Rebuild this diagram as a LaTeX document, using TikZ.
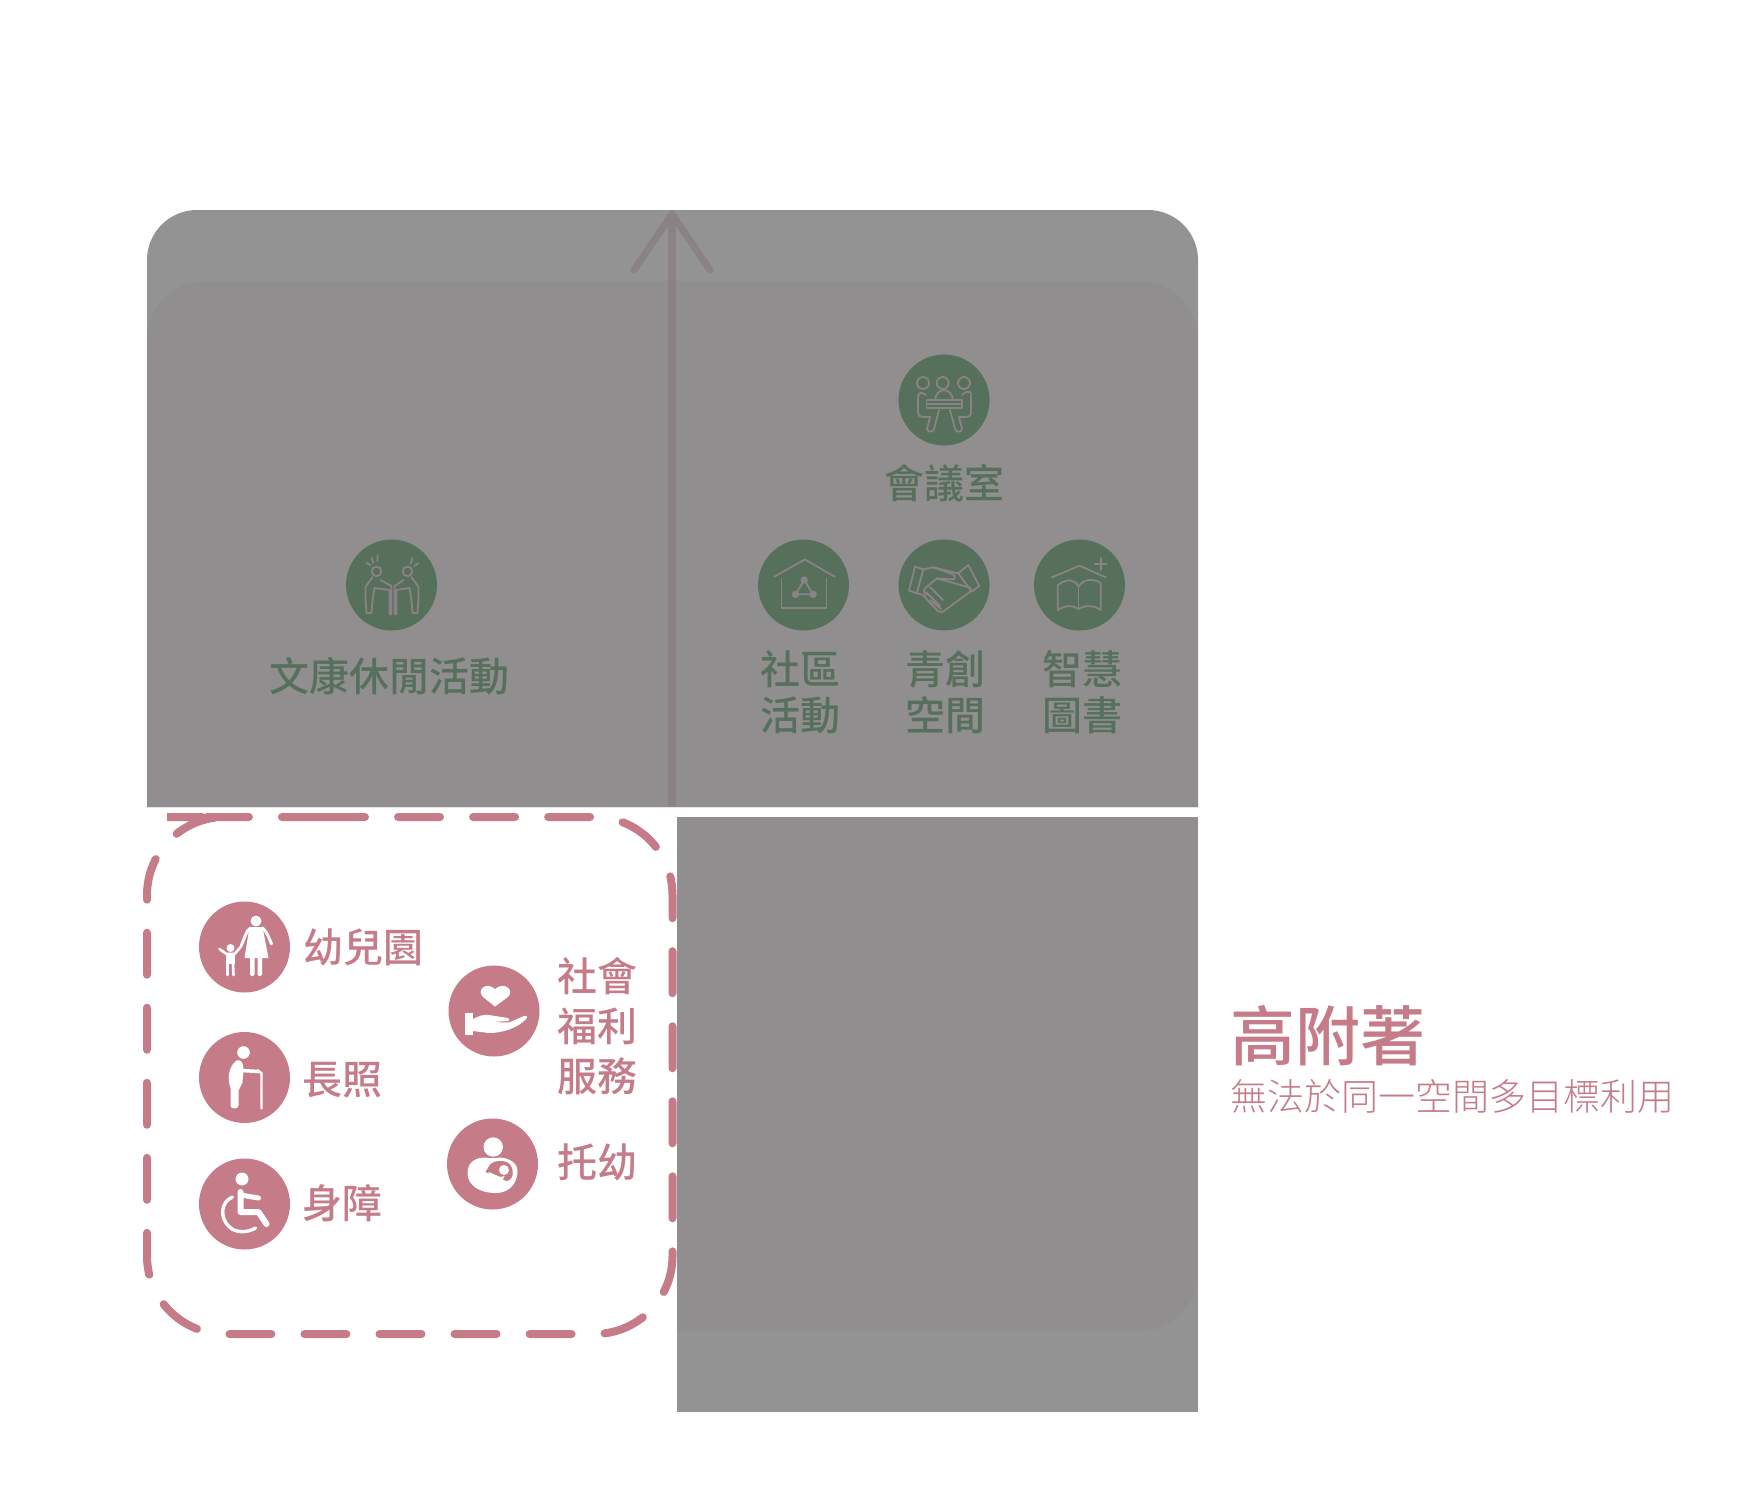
\documentclass[tikz,border=0pt]{standalone}
\usepackage{fontspec}
\setmainfont{Noto Sans CJK TC}[BoldFont={Noto Sans CJK TC}]
\newfontfamily\cjkmid{Noto Sans CJK TC Medium}
\newfontfamily\cjklight{Noto Sans CJK TC Light}
\definecolor{panelgray}{HTML}{949394}
\definecolor{innergray}{HTML}{918E90}
\definecolor{arrowgray}{HTML}{8B8285}
\definecolor{leafgreen}{HTML}{56705B}
\definecolor{rosepink}{HTML}{C57C88}
\tikzset{
  greendisc/.style={fill=leafgreen},
  pinkdisc/.style={fill=rosepink},
  greenlabel/.style={text=leafgreen, inner sep=0pt, align=center, font=\cjkmid\fontsize{40}{46}\selectfont},
  pinklabel/.style={text=rosepink, inner sep=0pt, align=center, font=\cjkmid\fontsize{40}{50}\selectfont},
  outline/.style={draw=arrowgray, line width=1.8pt, line join=round, line cap=round},
  solidwhite/.style={draw=white, line cap=round, line join=round}
}
\begin{document}
\begin{tikzpicture}[x=1pt,y=-1pt]
\useasboundingbox (0,0) rectangle (1747,1510);
% gray panels
\fill [panelgray] (147,807) [rounded corners=50pt] -- (147,210) -- (1198,210) [sharp corners] -- (1198,807) -- cycle;
\fill [panelgray] (677,817) rectangle (1198,1412);
\begin{scope}
\clip (147,210) rectangle (1198,807) (677,817) rectangle (1198,1412);
\fill [innergray, rounded corners=58pt] (147,281) rectangle (1198,1331);
\end{scope}
% axis
\coordinate (axisbase) at (672,807);
\coordinate (axistip) at (672,214);
\coordinate (headleft) at (634,270);
\coordinate (headright) at (710,270);
\draw [arrowgray, line width=8pt] (axisbase) -- (axistip);
\draw [arrowgray, line width=7pt, line cap=round, line join=round] (headleft) -- (axistip) -- (headright);
% dashed frame
\draw [rosepink, line width=8pt, line cap=round, dash pattern=on 42pt off 33.04pt] (245,817) [rounded corners=78pt] -- (672.5,817) -- (672.5,1334) -- (147,1334) -- (147,817) -- cycle;
% discs
\coordinate (leisure) at (391.5,585);
\coordinate (meeting) at (944,400);
\coordinate (community) at (803.5,585);
\coordinate (startup) at (944,585);
\coordinate (library) at (1079.5,585);
\coordinate (kinder) at (244.5,947);
\coordinate (longcare) at (244.5,1077.5);
\coordinate (disabled) at (244.5,1204);
\coordinate (welfare) at (494,1011);
\coordinate (nursery) at (492.5,1164);
\fill [greendisc] (leisure) circle (45.5pt);
\fill [greendisc] (meeting) circle (45.5pt);
\fill [greendisc] (community) circle (45.5pt);
\fill [greendisc] (startup) circle (45.5pt);
\fill [greendisc] (library) circle (45.5pt);
\fill [pinkdisc] (kinder) circle (45.5pt);
\fill [pinkdisc] (longcare) circle (45.5pt);
\fill [pinkdisc] (disabled) circle (45.5pt);
\fill [pinkdisc] (welfare) circle (45.5pt);
\fill [pinkdisc] (nursery) circle (45.5pt);
% leisure icon
\begin{scope}[shift={(leisure)}, outline]
\draw (-15,-13.6) circle (4.8pt);
\draw (-25,-22) -- (-21,-20) (-20,-27) -- (-18,-22) (-14,-30) -- (-14,-24);
\draw (-19,-8) -- (-26,2) -- (-26,14) -- (-25,28) -- (-20,28) -- (-19,15) -- (-17,3) -- (-2,5) -- (-2,29) -- (0,29) -- (0,1) -- (-11,-5);
\draw (16,-13.6) circle (4.8pt);
\draw (27,-22) -- (23,-19) (21,-27) -- (19,-21);
\draw (20,-8) -- (27,2) -- (27,14) -- (26,28) -- (21,28) -- (20,15) -- (18,3) -- (5,5) -- (5,29) -- (3,29) -- (3,1) -- (12,-5);
\end{scope}
% meeting icon
\begin{scope}[shift={(meeting)}, outline]
\draw (-21,-17) circle (6pt);
\draw (-1.3,-17) circle (6pt);
\draw (20,-17) circle (6pt);
\draw (-17.5,0) rectangle (18,8);
\draw (-17.5,4) -- (18,4);
\draw (-9,0) .. controls (-8,-13) and (8,-13) .. (9,0);
\draw (-18,-5) .. controls (-25,-10) and (-26,-6) .. (-26,0) -- (-26,12) .. controls (-26,17) and (-24,17) .. (-14,17) -- (-17,29) .. controls (-17,32) and (-11,33) .. (-10,29) -- (-5,10);
\draw (26,-8) .. controls (27,-8) and (27,-6) .. (27,0) -- (27,12) .. controls (27,17) and (25,17) .. (15,17) -- (18,29) .. controls (18,32) and (12,33) .. (11,29) -- (6,10);
\draw (18,-5) -- (22,-8) -- (26,-8);
\end{scope}
% community icon
\begin{scope}[shift={(community)}, outline]
\draw (-29.3,-8.3) -- (1.3,-25.6) -- (31.3,-8.3);
\draw (-22,-6.6) -- (-22,23.3) -- (23,23.3) -- (23,-6.6);
\draw (0.7,-5) -- (-8,9.3) -- (9.6,9.3) -- cycle;
\fill [arrowgray] (0.7,-5) circle (3.7pt);
\fill [arrowgray] (-8,9.3) circle (3.7pt);
\fill [arrowgray] (9.6,9.3) circle (3.7pt);
\end{scope}
% startup icon
\begin{scope}[shift={(startup)}, outline]
\draw (-29,-18.3) -- (-20.6,-15.6) -- (-27.3,8.3) -- (-35,5.6) -- cycle;
\draw (14.3,-11.6) -- (24.3,-20) -- (35.3,1) -- (27.6,6.6) -- cycle;
\draw (-20.6,-15.6) -- (-11,-17.7) -- (9,-10.7) .. controls (12,-8) and (11,-5) .. (8,-5.6) -- (-7,-6.6) -- (-19,3.3) .. controls (-21,6) and (-20,8) .. (-18,10);
\draw (-11,-17.7) -- (14.3,-11.6);
\draw (-7,-6.6) -- (27,3);
\draw (-27.3,8.3) -- (-21,10) -- (-14,18) -- (-6,26) .. controls (-4,28) and (-2,27) .. (0,26) -- (27,6);
\draw (-14,2) -- (-4,12) (-18,7) -- (-8,17) (-14,15) -- (-3,24);
\draw (-4,12) -- (-1,15) (-8,17) -- (-4,21);
\end{scope}
% library icon
\begin{scope}[shift={(library)}, outline]
\draw (-27.7,-7.6) -- (0,-19.3) -- (26.3,-7.6);
\draw (21.3,-27) -- (21.3,-15) (15.3,-21) -- (27.3,-21);
\draw (-21.7,25) -- (-21.7,0) .. controls (-12,-7) and (-5,-6) .. (-1,1.6) .. controls (4,-6) and (13,-7) .. (21.3,-2) -- (21.3,25);
\draw (-1,1.6) -- (-1,23);
\draw (-21.7,25) .. controls (-14,20) and (-7,20) .. (-1,24) .. controls (5,20) and (14,20) .. (21.3,25);
\end{scope}
% kinder icon
\begin{scope}[shift={(kinder)}]
\fill [white] (11.5,-26) circle (5.5pt);
\fill [white] (5,-20) -- (18,-20) -- (24,11) -- (0,11) -- cycle;
\fill [white, rounded corners=1.5pt] (5.5,9) rectangle (10,29);
\fill [white, rounded corners=1.5pt] (13,9) rectangle (17.5,29);
\draw [solidwhite, line width=3pt] (6,-19) .. controls (1,-16) and (0,-8) .. (-3,-2);
\draw [solidwhite, line width=3pt] (18,-19) .. controls (22,-16) and (25,-8) .. (27,-3);
\fill [white] (-14,1) circle (4pt);
\draw [solidwhite, line width=2.6pt] (-25,2) -- (-18,7) -- (-10,7) -- (-3,-1);
\fill [white] (-18.5,6) rectangle (-10,17);
\draw [solidwhite, line width=2.6pt] (-17,16) -- (-17,28);
\draw [solidwhite, line width=2.6pt] (-11.5,16) -- (-11,28);
\end{scope}
% long-term care icon
\begin{scope}[shift={(longcare)}]
\fill [white] (-1,-25) circle (6.3pt);
\fill [white] (-8,-17) .. controls (-3,-19) and (-1,-14) .. (-1,-7) -- (-2,5) -- (-6,13) -- (-6,28) .. controls (-6,32) and (-14,32) .. (-14,28) -- (-14,10) .. controls (-17,3) and (-17,-10) .. (-8,-17);
\draw [solidwhite, line width=3.5pt] (-3,-7) -- (14,-6);
\draw [solidwhite, line width=2.4pt] (13,-7) -- (17,-4.5) -- (17,31);
\end{scope}
% disabled icon
\begin{scope}[shift={(disabled)}]
\fill [white] (-2.5,-25) circle (6.5pt);
\draw [solidwhite, line width=6pt] (-4,-12) -- (-4,8) -- (14,8) -- (22,20);
\draw [solidwhite, line width=5pt] (-4,-9) -- (14,-6);
\draw [solidwhite, line width=3.4pt] (-12,-7) .. controls (-24,-2) and (-25,14) .. (-15,23) .. controls (-9,29) and (3,29) .. (11,24);
\end{scope}
% welfare icon
\begin{scope}[shift={(welfare)}]
\fill [white] (1,-4.5) -- (-11,-14) .. controls (-18,-21) and (-8,-30) .. (1,-22) .. controls (10,-30) and (21,-21) .. (14,-14) -- cycle;
\fill [white] (-29,2) rectangle (-21,24);
\fill [white] (-21,8) .. controls (-15,5) and (-10,3) .. (-5,4) -- (14,7) .. controls (16,8) and (16,10) .. (14,10) -- (-2,11) -- (15,11.5) -- (30,5) .. controls (33,4) and (34,6) .. (32,8) .. controls (25,16) and (10,22) .. (-5,22) -- (-21,20) -- cycle;
\end{scope}
% nursery icon
\begin{scope}[shift={(nursery)}]
\fill [white] (0.7,-17) circle (9.7pt);
\fill [white] (-3,-6) .. controls (-15,-8) and (-25,-3) .. (-25,9) .. controls (-25,22) and (-12,29) .. (3,29) .. controls (18,29) and (25,18) .. (25,7) .. controls (25,-3) and (12,-8) .. (3,-6) -- cycle;
\fill [rosepink] (-4,3) .. controls (-2,-3) and (9,-5) .. (16,-1) .. controls (22,4) and (22,16) .. (14,17) -- (-7,8) -- cycle;
\fill [white] (11.5,6) circle (5pt);
\fill [white] (-4,8) -- (8,13) -- (12,12) .. controls (10,18) and (6,20) .. (6,22) -- (-12,20) -- (-4,16) -- cycle;
\end{scope}
% labels
\node [greenlabel] (leisuretext) at (389.5,676) {文康休閒活動};
\node [greenlabel] (meetingtext) at (944,483) {會議室};
\node [greenlabel] (communitytext) at (800.5,692) {社區\\活動};
\node [greenlabel] (startuptext) at (945,692) {青創\\空間};
\node [greenlabel] (librarytext) at (1082.5,692) {智慧\\圖書};
\node [pinklabel] (kindertext) at (363,947) {幼兒園};
\node [pinklabel] (longcaretext) at (342.5,1080) {長照};
\node [pinklabel] (disabledtext) at (342.5,1203) {身障};
\node [pinklabel] (welfaretext) at (597.5,1026) {社會\\福利\\服務};
\node [pinklabel] (nurserytext) at (597.5,1162) {托幼};
\node [text=rosepink, inner sep=0pt, font=\cjkmid\fontsize{65}{70}\selectfont] (hightitle) at (1328,1036) {高附著};
\node [text=rosepink, inner sep=0pt, font=\cjklight\fontsize{37}{40}\selectfont] (highnote) at (1452,1096) {無法於同一空間多目標利用};
\end{tikzpicture}
\end{document}
